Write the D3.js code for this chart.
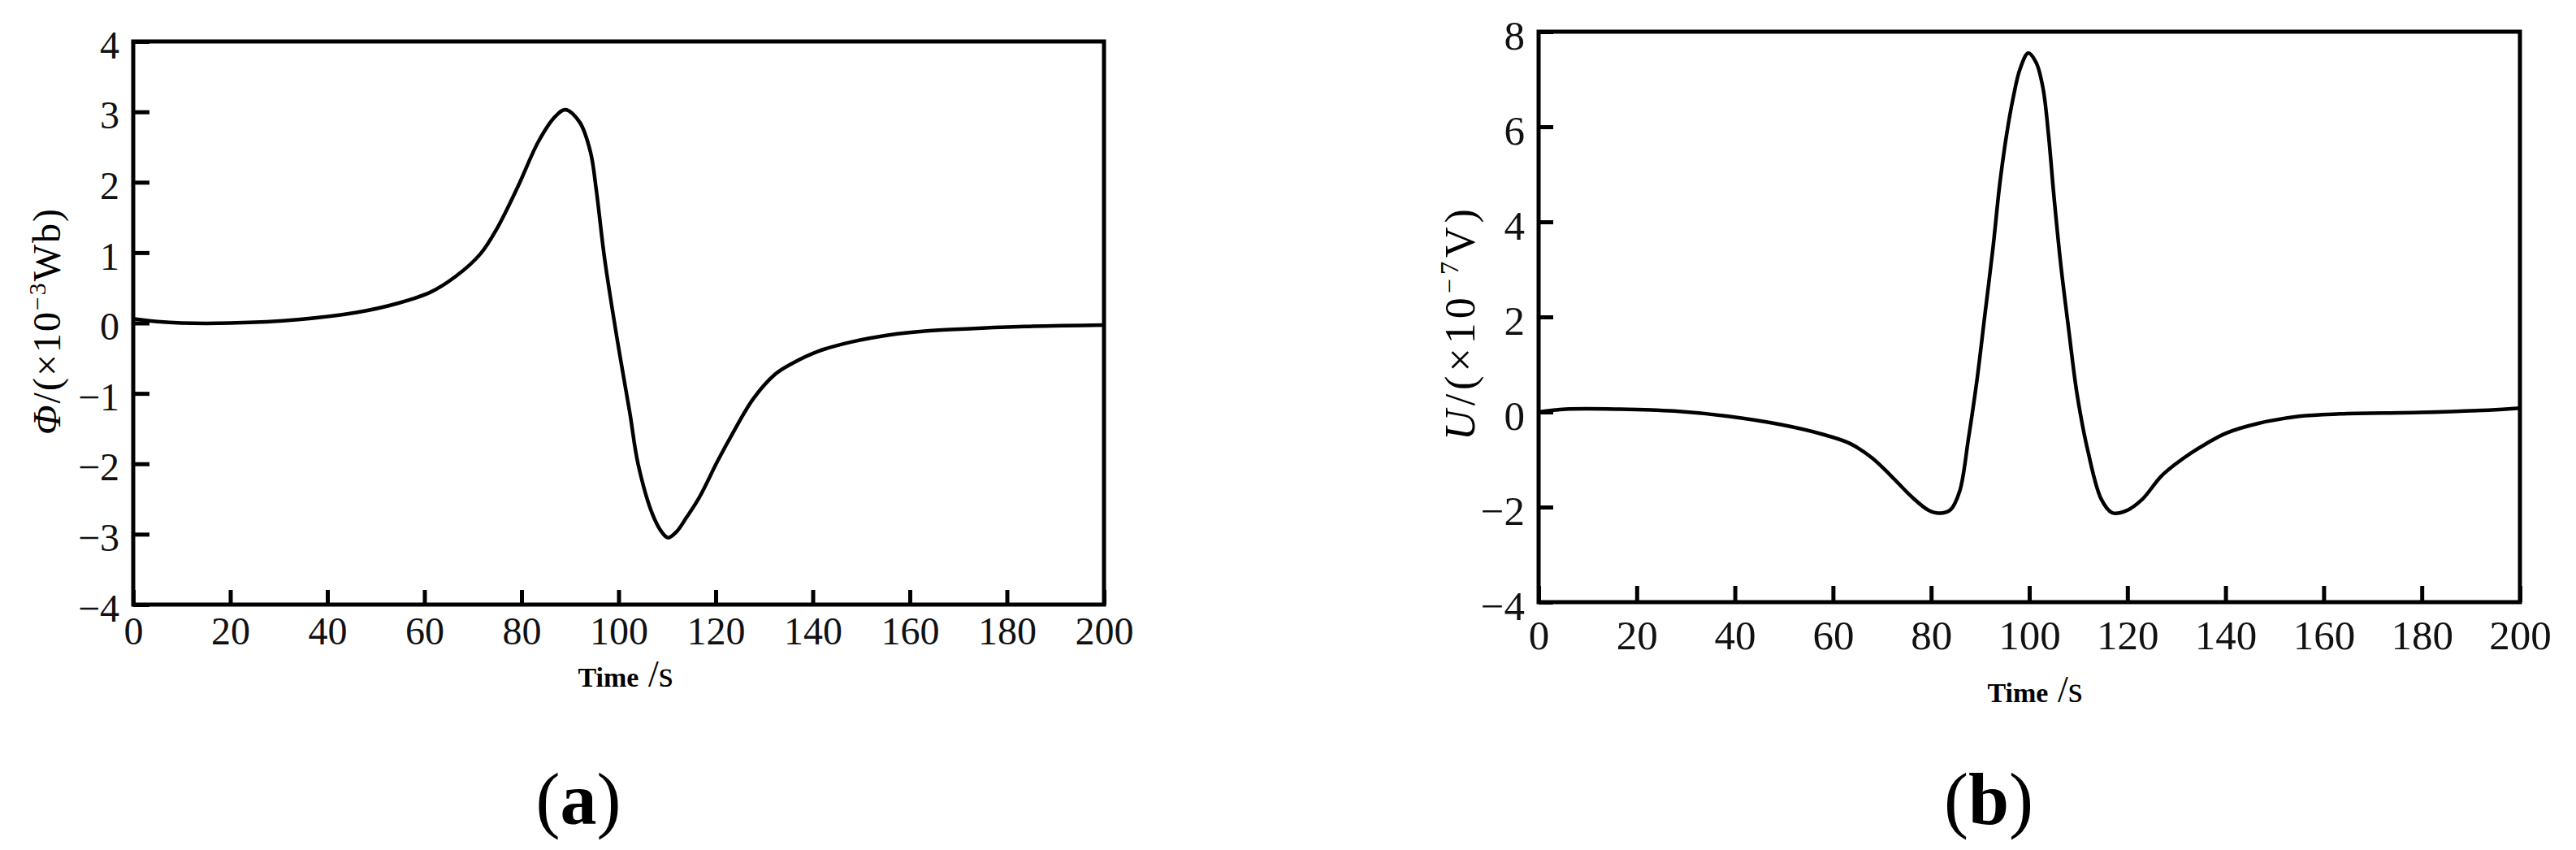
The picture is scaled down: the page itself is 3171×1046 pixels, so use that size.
<!DOCTYPE html>
<html>
<head>
<meta charset="utf-8">
<script src="https://cdn.jsdelivr.net/npm/d3@7"></script>
<style>
  html, body { margin: 0; padding: 0; background: #fff; }
  svg { display: block; }
  svg text { font-family: "Liberation Serif", "Times New Roman", serif !important; }
</style>
</head>
<body>
<script>
// ---------- DATA ----------
// Panel (a): magnetic flux Φ (×10^-3 Wb) vs time (s)
const timeA = [0, 5, 10, 20, 34, 46, 54.5, 61.3, 66.4, 71.5, 75, 79.2, 83.5, 86.9, 89, 92, 94.2, 95.4, 97.1, 99.7, 102.3, 104, 107, 109, 110.2, 112, 114, 116.6, 120.4, 123.4, 127.7, 132.2, 135.6, 141.2, 147.9, 155.7, 164, 172.4, 183.6, 200];
const fluxA = [0.06, 0.02, 0.0, 0.0, 0.05, 0.15, 0.28, 0.44, 0.66, 0.98, 1.35, 1.93, 2.58, 2.93, 3.03, 2.85, 2.43, 1.89, 0.92, -0.23, -1.27, -2.0, -2.72, -2.98, -3.05, -2.96, -2.76, -2.48, -1.96, -1.58, -1.08, -0.73, -0.58, -0.40, -0.27, -0.17, -0.11, -0.08, -0.05, -0.03];

// Panel (b): induced voltage U (×10^-7 V) vs time (s)
const timeB = [0, 5.5, 16.5, 27.6, 38.6, 49.6, 57.9, 63.4, 67.9, 71.7, 76.1, 79.5, 81.7, 83.9, 85.8, 87.6, 89.3, 90.9, 92.6, 94, 95.4, 96.7, 98.1, 99.8, 101.4, 102.8, 103.9, 105, 106.4, 108.1, 109.7, 111.9, 114.7, 116.9, 119.7, 123, 126.8, 130, 133, 136, 140, 146.7, 155, 163.3, 179.8, 193.6, 200];
const voltB = [0.0, 0.06, 0.06, 0.02, -0.09, -0.27, -0.47, -0.66, -0.96, -1.33, -1.79, -2.07, -2.13, -2.06, -1.67, -0.56, 0.64, 2.0, 3.45, 4.81, 5.85, 6.6, 7.21, 7.55, 7.35, 6.81, 5.85, 4.57, 3.12, 1.68, 0.40, -0.80, -1.84, -2.12, -2.08, -1.84, -1.36, -1.08, -0.86, -0.67, -0.45, -0.24, -0.09, -0.04, -0.01, 0.04, 0.08];

// Axis tick labels
const xTicks = [0, 20, 40, 60, 80, 100, 120, 140, 160, 180, 200];
const yTicksA = [-4, -3, -2, -1, 0, 1, 2, 3, 4];
const yTicksB = [-4, -2, 0, 2, 4, 6, 8];
const xDomain = [0, 200];
const yDomainA = [-4, 4];
const yDomainB = [-4, 8];

// ---------- DRAW ----------
const W = 3171, H = 1046;
const FONT = "Liberation Serif";
const svg = d3.select("body").append("svg").attr("width", W).attr("height", H)
  .attr("font-family", FONT);
svg.append("rect").attr("width", W).attr("height", H).attr("fill", "#fff");

function panel(opt) {
  const x = d3.scaleLinear().domain(xDomain).range([opt.left, opt.right]);
  const y = d3.scaleLinear().domain(opt.yDomain).range([opt.bottom, opt.top]);
  const g = svg.append("g");

  // curve
  const pts = opt.t.map((t, i) => [t, opt.v[i]]);
  g.append("path")
    .datum(pts)
    .attr("fill", "none")
    .attr("stroke", "#000")
    .attr("stroke-width", 4.5)
    .attr("stroke-linejoin", "round")
    .attr("d", d3.line().x(d => x(d[0])).y(d => y(d[1])).curve(d3.curveCatmullRom.alpha(0.5)));

  // axes with inward ticks
  const ax = g.append("g").attr("transform", `translate(0,${opt.bottom})`)
    .call(d3.axisBottom(x).tickValues(xTicks).tickSize(-opt.xTickLen).tickPadding(opt.xPad).tickFormat(d3.format("d")));
  ax.attr("font-family", FONT).attr("font-size", opt.tickFont);
  ax.select(".domain").remove();
  ax.selectAll("line").attr("stroke", "#000").attr("stroke-width", 5);
  ax.selectAll("text").attr("font-family", FONT).attr("font-size", opt.tickFont).attr("fill", "#111");

  const ay = g.append("g").attr("transform", `translate(${opt.left},0)`)
    .call(d3.axisLeft(y).tickValues(opt.yTicks).tickSize(-opt.yTickLen).tickPadding(opt.yPad).tickFormat(d => d < 0 ? "\u2212" + Math.abs(d) : d));
  ay.attr("font-family", FONT).attr("font-size", opt.tickFont);
  ay.select(".domain").remove();
  ay.selectAll("line").attr("stroke", "#000").attr("stroke-width", 5);
  ay.selectAll("text").attr("font-family", FONT).attr("font-size", opt.tickFont).attr("fill", "#111").attr("dy", "0.42em");

  // frame
  g.append("rect")
    .attr("x", opt.left).attr("y", opt.top)
    .attr("width", opt.right - opt.left).attr("height", opt.bottom - opt.top)
    .attr("fill", "none").attr("stroke", "#000").attr("stroke-width", 5);

  // x-axis title
  const xt = g.append("text")
    .attr("x", opt.xTitle[0]).attr("y", opt.xTitle[1])
    .attr("font-family", FONT)
    .attr("text-anchor", "middle");
  xt.append("tspan").attr("font-size", 34).attr("font-weight", "bold").text("Time");
  xt.append("tspan").attr("font-size", 46).text(" /s");

  // y-axis title (rotated)
  const yt = g.append("text")
    .attr("transform", `translate(${opt.yTitle[0]},${opt.yTitle[1]}) rotate(-90)`)
    .attr("text-anchor", "middle")
    .attr("font-family", FONT)
    .attr("letter-spacing", opt.yTitleSpacing)
    .attr("font-size", opt.yTitleFont);
  yt.append("tspan").attr("font-style", "italic").text(opt.yVar);
  yt.append("tspan").text("/(\u00d710");
  yt.append("tspan").attr("font-size", opt.yTitleFont * 0.62).attr("dy", -opt.yTitleFont * 0.38).text(opt.yExp);
  yt.append("tspan").attr("dy", opt.yTitleFont * 0.38).text(opt.yUnit + ")");

  // caption
  const cap = svg.append("text")
    .attr("x", opt.cap[0]).attr("y", opt.cap[1])
    .attr("font-family", FONT)
    .attr("text-anchor", "middle").attr("font-size", 90);
  cap.append("tspan").text("(");
  cap.append("tspan").attr("font-weight", "bold").text(opt.capLetter);
  cap.append("tspan").text(")");
}

panel({
  left: 164, right: 1359, top: 51, bottom: 744,
  yDomain: yDomainA, yTicks: yTicksA,
  t: timeA, v: fluxA,
  xTickLen: 18, yTickLen: 20, xPad: 15, yPad: 17, tickFont: 48,
  xTitle: [770, 845],
  yTitle: [74, 395], yTitleFont: 48, yTitleSpacing: 2, yVar: "\u03a6", yExp: "\u22123", yUnit: "Wb",
  cap: [712, 1014], capLetter: "a"
});

panel({
  left: 1894, right: 3102, top: 39, bottom: 741,
  yDomain: yDomainB, yTicks: yTicksB,
  t: timeB, v: voltB,
  xTickLen: 20, yTickLen: 18, xPad: 22, yPad: 17, tickFont: 51,
  xTitle: [2505, 864],
  yTitle: [1815, 397], yTitleFont: 52, yTitleSpacing: 5, yVar: "U", yExp: "\u22127", yUnit: "V",
  cap: [2448, 1014], capLetter: "b"
});
</script>
</body>
</html>
